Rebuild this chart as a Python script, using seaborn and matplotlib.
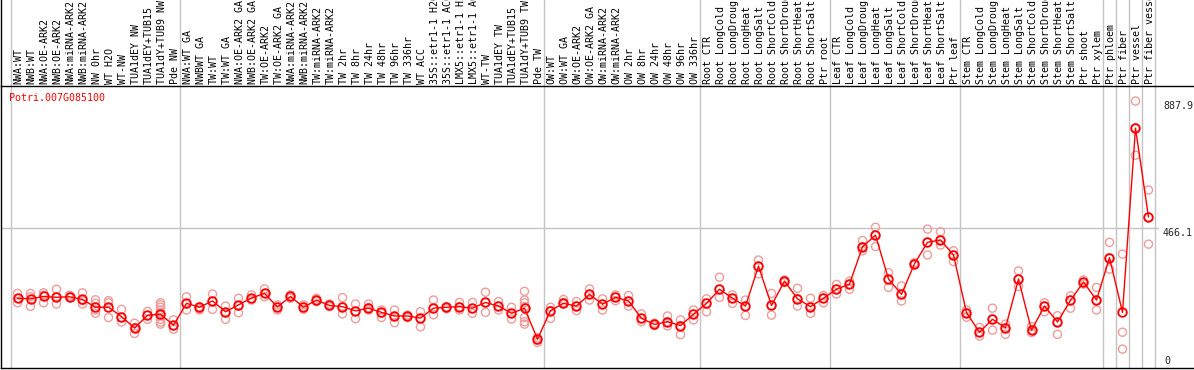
import seaborn as sns
import matplotlib.pyplot as plt
import pandas as pd
import matplotlib.transforms as mtransforms

gene = "Potri.007G085100"

labels = ["NWA:WT", "NWB:WT", "NWA:OE-ARK2", "NWB:OE-ARK2", "NWA:miRNA-ARK2", "NWB:miRNA-ARK2",
          "NW 0hr", "WT H2O", "WT-NW", "TUA1dEY NW", "TUA1dEY+TUB15", "TUA1dY+TUB9 NW", "Pde NW",
          "NWA:WT GA", "NWBWT GA", "TW:WT", "TW:WT GA", "NWA:OE-ARK2 GA", "NWB:OE-ARK2 GA",
          "TW:OE-ARK2", "TW:OE-ARK2 GA", "NWA:miRNA-ARK2", "NWB:miRNA-ARK2", "TW:miRNA-ARK2",
          "TW:miRNA-ARK2", "TW 2hr", "TW 8hr", "TW 24hr", "TW 48hr", "TW 96hr", "TW 336hr", "WT ACC",
          "35S::etr1-1 H2O", "35S::etr1-1 ACC", "LMX5::etr1-1 H2O", "LMX5::etr1-1 ACC", "WT-TW",
          "TUA1dEY TW", "TUA1dEY+TUB15", "TUA1dY+TUB9 TW", "Pde TW",
          "OW:WT", "OW:WT GA", "OW:OE-ARK2", "OW:OE-ARK2 GA", "OW:miRNA-ARK2", "OW:miRNA-ARK2",
          "OW 2hr", "OW 8hr", "OW 24hr", "OW 48hr", "OW 96hr", "OW 336hr",
          "Root CTR", "Root LongCold", "Root LongDrought", "Root LongHeat", "Root LongSalt",
          "Root ShortCold", "Root ShortDrought", "Root ShortHeat", "Root ShortSalt", "Ptr root",
          "Leaf CTR", "Leaf LongCold", "Leaf LongDrought", "Leaf LongHeat", "Leaf LongSalt",
          "Leaf ShortCold", "Leaf ShortDrought", "Leaf ShortHeat", "Leaf ShortSalt", "Ptr leaf",
          "Stem CTR", "Stem LongCold", "Stem LongDrought", "Stem LongHeat", "Stem LongSalt",
          "Stem ShortCold", "Stem ShortDrought", "Stem ShortHeat", "Stem ShortSalt", "Ptr shoot",
          "Ptr xylem", "Ptr phloem", "Ptr fiber", "Ptr vessel", "Ptr fiber vessel"]

means = [232, 230, 238, 235, 237, 228, 202, 202, 171, 133, 175, 179, 142,
         215, 202, 223, 187, 210, 233, 248, 203, 238, 202, 226, 208, 204, 190, 199,
         185, 173, 173, 166, 199, 202, 204, 199, 218, 206, 182, 199, 96,
         191, 215, 206, 245, 212, 235, 223, 165, 145, 154, 141, 179,
         215, 262, 232, 206, 339, 208, 289, 230, 204, 232,
         262, 279, 403, 442, 296, 245, 347, 418, 426, 376,
         184, 119, 162, 134, 296, 126, 206, 153, 225, 286, 226,
         367, 185, 798, 502]

reps = [[248, 232, 217], [248, 237, 205], [250, 242, 217], [262, 237, 213], [242, 237, 234],
        [250, 224, 213], [227, 215, 193, 182], [224, 217, 168], [195, 168, 153], [149, 134, 115],
        [188, 175, 162], [217, 210, 202, 193, 184, 175, 162, 153, 146], [160, 141, 129],
        [237, 213, 193], [204, 197, 193], [246, 223, 195], [206, 184, 162], [232, 206, 184],
        [243, 231, 226], [263, 248, 237], [210, 202, 193], [243, 237, 232], [210, 202, 195],
        [232, 226, 221], [213, 208, 204], [234, 204, 180], [213, 189, 164], [213, 201, 193],
        [193, 182, 168], [193, 173, 151], [176, 173, 168], [187, 166, 137], [226, 198, 177],
        [204, 201, 197], [218, 204, 193], [218, 198, 182], [252, 218, 185], [221, 206, 193],
        [202, 182, 163], [255, 226, 217, 204, 168, 154, 146], [101, 93, 85],
        [202, 191, 165], [228, 218, 213], [221, 206, 191], [263, 245, 226], [230, 212, 193],
        [243, 235, 224], [241, 223, 206], [180, 165, 154], [149, 145, 141], [173, 154, 140],
        [160, 141, 111], [193, 179, 160],
        [230, 215, 187], [302, 262, 235], [243, 232, 215], [226, 206, 175], [359, 339, 313],
        [248, 208, 176], [293, 289, 284], [265, 231, 206], [232, 204, 182], [241, 232, 217],
        [278, 262, 246], [289, 279, 262], [424, 404, 390], [468, 442, 404], [317, 296, 268],
        [273, 245, 223], [350, 347, 343], [462, 418, 376], [453, 426, 409], [390, 376, 354],
        [193, 184, 169], [135, 119, 106], [199, 162, 126], [146, 134, 112], [323, 296, 271],
        [138, 126, 118], [217, 206, 187], [174, 153, 112], [240, 225, 199], [293, 286, 279],
        [268, 226, 193],
        [418, 367, 329], [379, 119, 63], [887.9, 799, 708], [592, 502, 412]]

# group separators (after these column indices)
sep_after = [-1, 12, 40, 52, 62, 72, 83, 84, 85, 86, 87]
y_marks = [887.9, 466.1, 0]

mean_df = pd.DataFrame({"pos": range(len(means)), "mean": means})
rep_df = pd.DataFrame([(i, v) for i, r in enumerate(reps) for v in r], columns=["pos", "value"])

sns.set_style("white")
plt.rcParams["font.family"] = ["DejaVu Sans Mono"]
fs = 7.2

W, H = 1194, 370
fig = plt.figure(figsize=(W / 100, H / 100), dpi=100)
ax = fig.add_axes([1 / W, 2 / H, 1193 / W, 282 / H])
hx = fig.add_axes([1 / W, 284 / H, 1193 / W, 86 / H], sharex=ax)

x0 = (1 - 17.5) / 13
x1 = (1194 - 17.5) / 13
ax.set_xlim(x0, x1)
ax.set_ylim(0, 938)
hx.set_ylim(0, 1)

for a in (ax, hx):
    for s in ["top", "right"]:
        a.spines[s].set_visible(False)
    for s in ["left", "bottom"]:
        a.spines[s].set_color("black")
        a.spines[s].set_linewidth(1.0)
    a.set_xticks([])
    a.set_yticks([])
    a.set_xlabel("")
    a.set_ylabel("")
    for b in sep_after:
        a.axvline(b + 0.5, color="#c4c4c4", lw=1.0, zorder=0)

ax.axhline(y_marks[1], xmin=0, xmax=0.97, color="#c4c4c4", lw=1.0, zorder=0)

sns.scatterplot(data=rep_df, x="pos", y="value", ax=ax, marker="o", s=34,
                facecolor="none", edgecolor="#ee9c9c", linewidth=1.0, zorder=2, legend=False)
sns.lineplot(data=mean_df, x="pos", y="mean", ax=ax, color="red", linewidth=1.0,
             marker="o", markersize=6.2, markerfacecolor="none", markeredgecolor="red",
             markeredgewidth=1.3, zorder=3)
ax.set_xlabel("")
ax.set_ylabel("")

for i, lab in enumerate(labels):
    hx.text(i + 0.1, 0.02, lab, rotation=90, ha="center", va="bottom",
            fontsize=fs, color="black", clip_on=False)

fig.text(9 / W, 1 - 98 / H, gene, color="red", fontsize=fs, va="center", ha="left")

trans = mtransforms.blended_transform_factory(ax.transAxes, ax.transData)
lx = (1163 - 1) / 1193
ax.text(lx, y_marks[0], "%.1f" % y_marks[0], transform=trans, fontsize=fs, va="top", ha="left")
ax.text(lx, y_marks[1], "%.1f" % y_marks[1], transform=trans, fontsize=fs, va="top", ha="left")
ax.text(lx + 1 / 1193, y_marks[2] + 6, "0", transform=trans, fontsize=fs, va="bottom", ha="left")

fig.savefig("out.png", dpi=100)
